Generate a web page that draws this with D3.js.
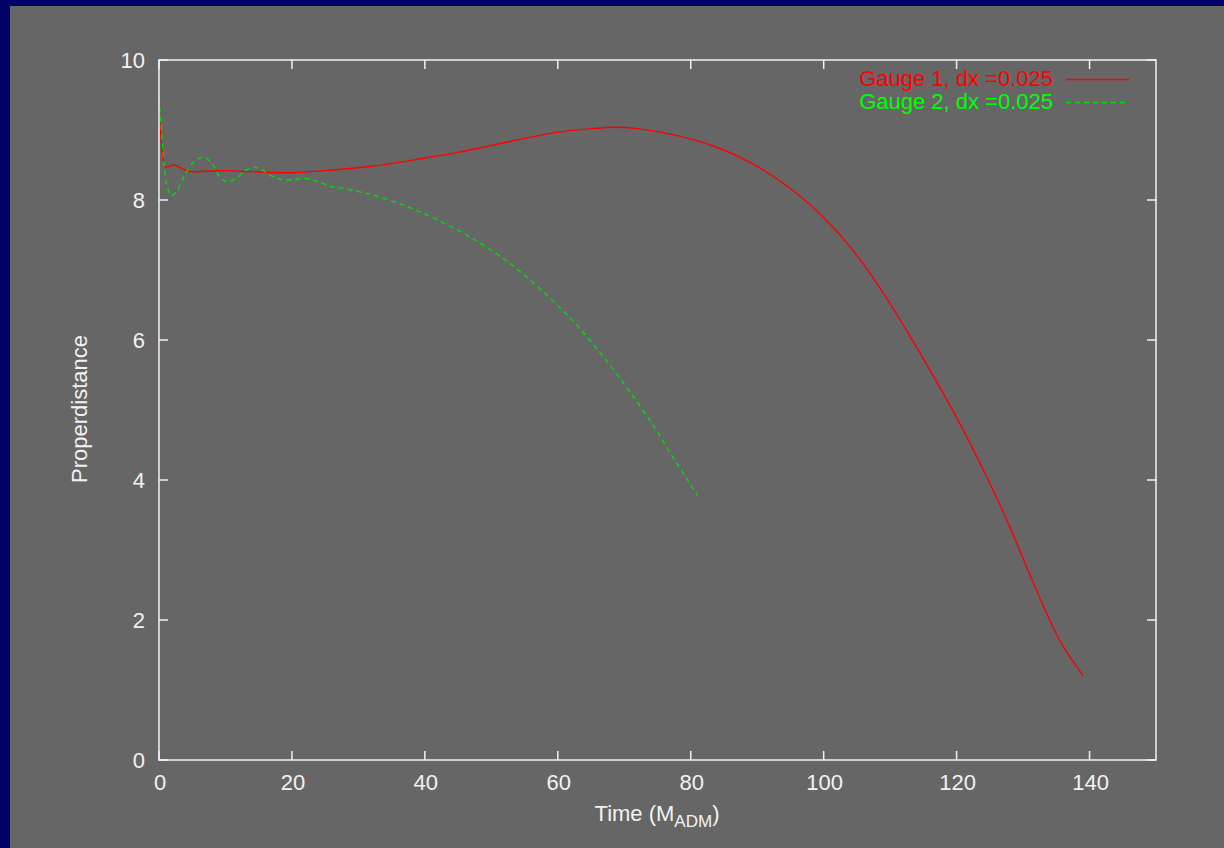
<!DOCTYPE html>
<html><head><meta charset="utf-8">
<script src="https://cdn.jsdelivr.net/npm/d3@7"></script>
<style>html,body{margin:0;padding:0;background:#666666;}svg{display:block;}</style>
</head><body>
<script>
const xTicks = [0, 20, 40, 60, 80, 100, 120, 140];
const yTicks = [0, 2, 4, 6, 8, 10];
const seriesNames = ["Gauge 1, dx =0.025", "Gauge 2, dx =0.025"];
const gauge1T = [0,0.3,0.6,1.0,1.5,2.2,3,4.5,7,10,15,20,25,30,35,40,45,50,55,60,65,68.5,72,78,84,90,96,100,104,108,112,116,120,124,126,128,130,132,134,135,136,137,138,139];
const gauge1V = [9.25,8.9,8.6,8.47,8.48,8.5,8.47,8.41,8.41,8.42,8.4,8.39,8.42,8.46,8.52,8.6,8.68,8.78,8.88,8.97,9.02,9.04,9.02,8.92,8.75,8.48,8.09,7.75,7.33,6.81,6.21,5.57,4.89,4.15,3.75,3.33,2.88,2.43,2.0,1.8,1.63,1.48,1.34,1.21];
const gauge2T = [0,0.3,0.7,1.2,1.8,2.5,3.5,5,6.6,8,9,10.2,11.5,13,14.2,15.5,17,18.7,20,21.7,23,24.5,26,28,31,34,38,42,47,52,57,62,66,70,74,77.5,81];
const gauge2V = [9.45,9.1,8.6,8.2,8.07,8.1,8.28,8.52,8.61,8.52,8.35,8.26,8.3,8.42,8.47,8.43,8.34,8.29,8.29,8.31,8.29,8.24,8.19,8.16,8.1,8.02,7.88,7.71,7.46,7.15,6.76,6.3,5.86,5.37,4.83,4.3,3.78];

const W = 1224, H = 848;
const svg = d3.select("body").append("svg").attr("width", W).attr("height", H);
svg.append("rect").attr("width", W).attr("height", H).attr("fill", "#000066");
svg.append("rect").attr("x", 10).attr("y", 6).attr("width", W - 10).attr("height", H - 6).attr("fill", "#666666");

const L = 159, R = 1156, T = 60, B = 760;
const x = d3.scaleLinear().domain([0, 150]).range([L, R]);
const y = d3.scaleLinear().domain([0, 10]).range([B, T]);
const font = "'Liberation Sans', Arial, Helvetica, sans-serif";
const txt = "#f2f2f2";
const fs = 22;

// ticks (inside, mirrored)
const tl = 9;
const tg = svg.append("g").attr("stroke", "#f2f2f2").attr("stroke-width", 1.5);
xTicks.forEach(v => {
  tg.append("line").attr("x1", x(v)).attr("x2", x(v)).attr("y1", B).attr("y2", B - tl);
  tg.append("line").attr("x1", x(v)).attr("x2", x(v)).attr("y1", T).attr("y2", T + tl);
});
yTicks.forEach(v => {
  tg.append("line").attr("x1", L).attr("x2", L + tl).attr("y1", y(v)).attr("y2", y(v));
  tg.append("line").attr("x1", R).attr("x2", R - tl).attr("y1", y(v)).attr("y2", y(v));
});

// tick labels
svg.append("g").selectAll("text").data(xTicks).join("text")
  .attr("x", d => x(d) + 1).attr("y", 790).attr("text-anchor", "middle")
  .attr("font-family", font).attr("font-size", fs).attr("fill", txt).text(d => d);
svg.append("g").selectAll("text").data(yTicks).join("text")
  .attr("x", 145).attr("y", d => y(d) + 8).attr("text-anchor", "end")
  .attr("font-family", font).attr("font-size", fs).attr("fill", txt).text(d => d);

// axis labels
const xl = svg.append("text").attr("x", 657).attr("y", 821).attr("text-anchor", "middle")
  .attr("font-family", font).attr("font-size", fs).attr("fill", txt);
xl.append("tspan").text("Time (M");
xl.append("tspan").attr("dy", 6).attr("font-size", 17).text("ADM");
xl.append("tspan").attr("dy", -6).text(")");
svg.append("text").attr("transform", "translate(87,409) rotate(-90)").attr("text-anchor", "middle")
  .attr("font-family", font).attr("font-size", fs).attr("fill", txt).text("Properdistance");

// curves
const line = d3.line().x(d => x(d[0])).y(d => y(d[1])).curve(d3.curveCatmullRom.alpha(0.5));
const d1 = gauge1T.map((t, i) => [t, gauge1V[i]]);
const d2 = gauge2T.map((t, i) => [t, gauge2V[i]]);
svg.append("path").attr("d", line(d1)).attr("fill", "none").attr("stroke", "#ff0000").attr("stroke-width", 1.4);
svg.append("path").attr("d", line(d2)).attr("fill", "none").attr("stroke", "#00dd00").attr("stroke-width", 1.4).attr("stroke-dasharray", "5,4");

// frame
svg.append("rect").attr("x", L).attr("y", T).attr("width", R - L).attr("height", B - T)
  .attr("fill", "none").attr("stroke", "#f2f2f2").attr("stroke-width", 1.5);

// legend
const legColors = ["#ff0000", "#00ff00"];
const legLine = ["#ff0000", "#00dd00"];
seriesNames.forEach((n, i) => {
  const yy = 79 + i * 23;
  svg.append("text").attr("x", 1053).attr("y", yy + 7).attr("text-anchor", "end")
    .attr("font-family", font).attr("font-size", fs).attr("fill", legColors[i]).text(n);
  const ln = svg.append("line").attr("x1", 1066).attr("x2", 1129).attr("y1", yy + 0.5).attr("y2", yy + 0.5)
    .attr("stroke", legLine[i]).attr("stroke-width", 1.4);
  if (i === 1) ln.attr("stroke-dasharray", "5,4");
});
</script>
</body></html>
